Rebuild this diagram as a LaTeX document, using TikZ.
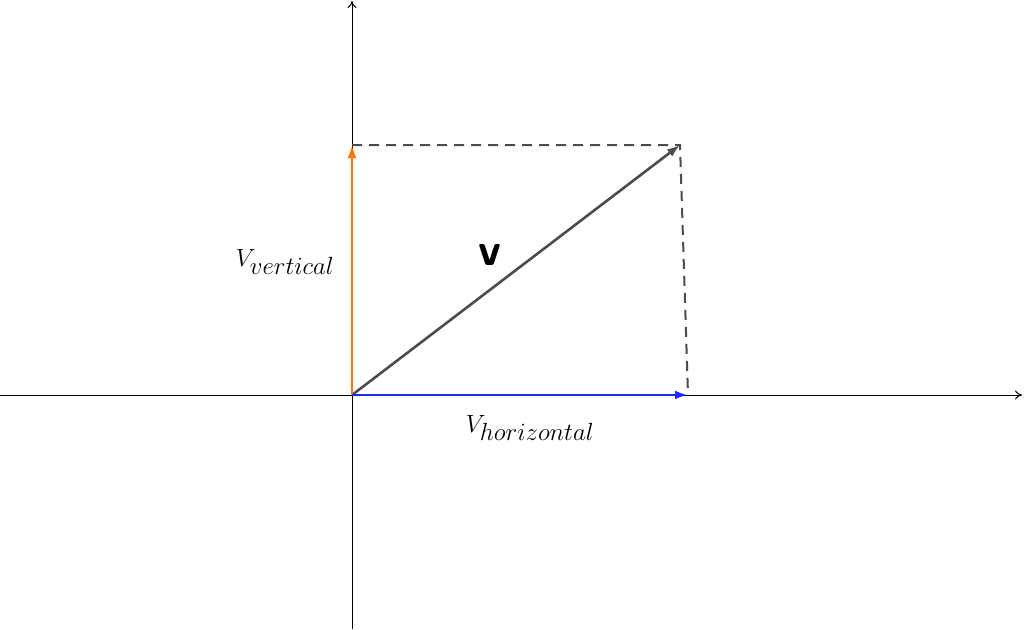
\documentclass[tikz,border=0pt]{standalone}
\usetikzlibrary{arrows.meta}
\begin{document}
\begin{tikzpicture}[x=1pt,y=-1pt,
  axis/.style={line width=1pt,-{To[length=7pt,width=9pt]}},
  vec/.style={line width=2.6pt,-{Latex[length=13pt,width=9pt]}}]
\useasboundingbox (0,0) rectangle (1024,629);
\coordinate (O) at (352,395);
\coordinate (xl) at (0,395);
\coordinate (xr) at (1022,395);
\coordinate (yb) at (352,629);
\coordinate (yt) at (352,1);
\coordinate (P) at (680,145);
\coordinate (Y) at (352,145);
\coordinate (X) at (688,395);
\draw[axis] (xl) -- (xr);
\draw[axis] (yb) -- (yt);
\draw[line width=2pt,color=black!70,dash pattern=on 10pt off 7pt] (Y) -- (P) -- (X);
\draw[vec,color=black!70] (O) -- (P);
\draw[vec,color=orange!90!red] (O) -- (Y);
\draw[vec,color=blue!85!white] (O) -- (X);
\node (lv) at (285,262) {\fontsize{44}{50}\selectfont$V_{vertical}$};
\node (lh) at (530,428) {\fontsize{44}{50}\selectfont$V_{horizontal}$};
\node (lvv) at (490,255) {\fontsize{46}{50}\selectfont\sffamily\bfseries v};
\end{tikzpicture}
\end{document}
